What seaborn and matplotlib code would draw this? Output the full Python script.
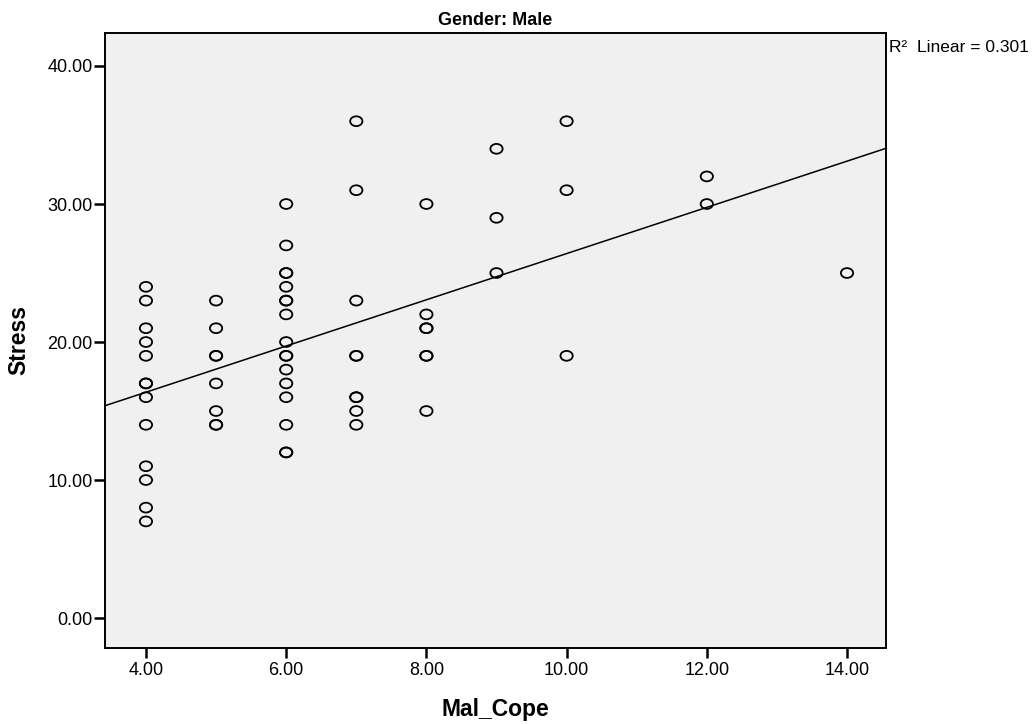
import numpy as np
import pandas as pd
import matplotlib
matplotlib.use("Agg")
import matplotlib.pyplot as plt
from matplotlib.path import Path
import seaborn as sns

# Data (Mal_Cope, Stress)
cope_4 = [24, 23, 21, 20, 19, 17, 17, 16, 14, 11, 10, 8, 7]
cope_5 = [23, 21, 19, 19, 17, 15, 14, 14]
cope_6 = [30, 27, 25, 25, 24, 23, 23, 22, 20, 19, 19, 18, 17, 16, 14, 12, 12]
cope_7 = [36, 31, 23, 19, 19, 16, 16, 15, 14]
cope_8 = [30, 22, 21, 21, 19, 19, 15]
cope_9 = [34, 29, 25]
cope_10 = [36, 31, 19]
cope_12 = [32, 30]
cope_14 = [25]

groups = {4: cope_4, 5: cope_5, 6: cope_6, 7: cope_7, 8: cope_8,
          9: cope_9, 10: cope_10, 12: cope_12, 14: cope_14}
mal_cope = []
stress = []
for k, vals in groups.items():
    mal_cope += [k] * len(vals)
    stress += vals
df = pd.DataFrame({"Mal_Cope": mal_cope, "Stress": stress})

x_ticks = [4, 6, 8, 10, 12, 14]
y_ticks = [0, 10, 20, 30, 40]
title = "Gender: Male"
r2_label = "R\u00b2  Linear = 0.301"

sns.set_style("white")
plt.rcParams["font.family"] = ["Liberation Sans", "DejaVu Sans"]
plt.rcParams["text.color"] = "black"
plt.rcParams["axes.labelcolor"] = "black"

fig = plt.figure(figsize=(10.33, 7.24), dpi=100)
ax = fig.add_axes([0.1016, 0.105, 0.7561, 0.8494])
ax.set_facecolor("#f0f0f0")

xlim = (3.415, 14.556)
ylim = (-2.17, 42.39)
ax.set_xlim(*xlim)
ax.set_ylim(*ylim)

# elliptical open marker
circ = Path.unit_circle()
ell = Path(circ.vertices * np.array([1.0, 0.8]), circ.codes)

sns.scatterplot(data=df, x="Mal_Cope", y="Stress", ax=ax, marker=ell, s=78,
                facecolor="none", edgecolor="black", linewidth=1.3, zorder=3)
sns.regplot(data=df, x="Mal_Cope", y="Stress", ax=ax, scatter=False, ci=None,
            truncate=False, line_kws=dict(color="black", linewidth=1.1))

ax.set_xlim(*xlim)
ax.set_ylim(*ylim)
ax.set_xticks(x_ticks)
ax.set_xticklabels([f"{v:.2f}" for v in x_ticks])
ax.set_yticks(y_ticks)
ax.set_yticklabels([f"{v:.2f}" for v in y_ticks])

ax.tick_params(axis="both", direction="out", width=1.8, color="black",
               labelsize=13, labelcolor="black", bottom=True, left=True,
               top=False, right=False)
ax.tick_params(axis="y", length=8, pad=1)
ax.tick_params(axis="x", length=7, pad=3)
for sp in ax.spines.values():
    sp.set_visible(True)
    sp.set_color("black")
    sp.set_linewidth(1.4)

ax.set_xlabel("Mal_Cope", fontsize=16.5, fontweight="bold", labelpad=14,
              color="black")
ax.set_ylabel("Stress", fontsize=16.5, fontweight="bold", labelpad=12,
              color="black")
ax.set_title(title, fontsize=13, fontweight="bold", pad=6, color="black")

fig.text(889 / 1033, 1 - 48 / 724, r2_label, fontsize=12.5, va="center",
         ha="left", color="black")

fig.savefig("out.png", dpi=100)
